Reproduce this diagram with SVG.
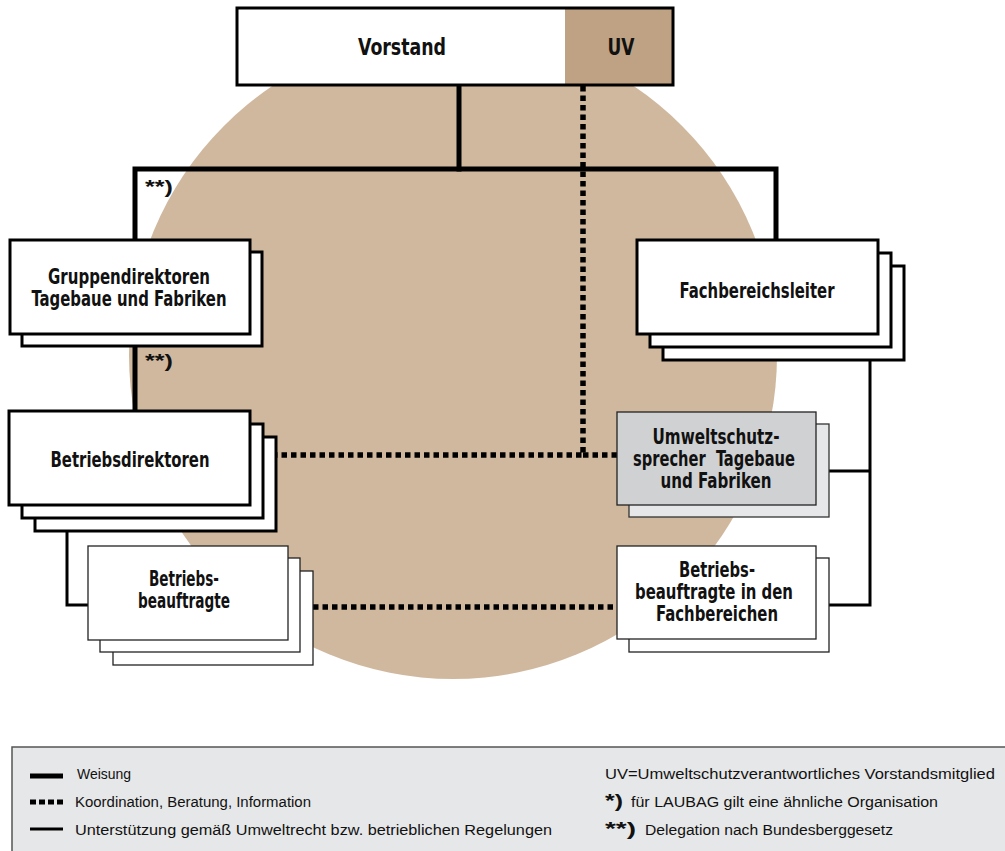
<svg xmlns="http://www.w3.org/2000/svg" width="1005" height="851" viewBox="0 0 1005 851">
  <style>
    .box { fill: #ffffff; stroke: #000000; stroke-width: 3; }
    .thin { fill: #ffffff; stroke: #222222; stroke-width: 1.3; }
    .lbl { font-family: "DejaVu Sans Condensed", "Liberation Sans", sans-serif; font-weight: bold; font-size: 20.5px; fill: #111111; text-anchor: middle; }
    .weisung { fill: none; stroke: #000000; stroke-width: 5; stroke-linejoin: miter; stroke-linecap: square; }
    .koord { fill: none; stroke: #000000; stroke-width: 5.5; stroke-dasharray: 5.5 4; }
    .support { fill: none; stroke: #000000; stroke-width: 3; stroke-linejoin: miter; }
    .note { font-family: "Liberation Sans", sans-serif; font-size: 15.5px; fill: #111111; }
    .star { font-family: "Liberation Sans", sans-serif; font-size: 19px; font-weight: bold; fill: #111111; }
  </style>

  <!-- background disc -->
  <circle cx="453" cy="355" r="324" fill="#d0b89e"/>

  <!-- connectors -->
  <g id="connectors">
    <polyline class="weisung" points="459,85 459,169"/>
    <polyline class="weisung" points="135,240 135,169 776,169 776,240"/>
    <polyline class="weisung" points="135,346 135,411"/>
    <polyline class="koord" points="583,86 583,455 276,455"/>
    <line class="koord" x1="583" y1="455" x2="617" y2="455"/>
    <line class="koord" x1="313" y1="607" x2="617" y2="607"/>
    <polyline class="support" points="67,531 67,605 88,605"/>
    <polyline class="support" points="870,360 870,605 829,605"/>
    <line class="support" x1="829" y1="471" x2="870" y2="471"/>
  </g>

  <!-- Vorstand with UV -->
  <g id="vorstand">
    <rect x="237" y="8" width="436" height="77" fill="#ffffff"/>
    <rect x="565" y="8" width="108" height="77" fill="#bfa283"/>
    <rect x="237" y="8" width="436" height="77" fill="none" stroke="#000" stroke-width="3"/>
    <text class="lbl" x="402" y="54.5" style="font-size:23.5px" textLength="88" lengthAdjust="spacingAndGlyphs">Vorstand</text>
    <text class="lbl" x="621" y="54.5" style="font-size:23.5px" textLength="27" lengthAdjust="spacingAndGlyphs">UV</text>
  </g>

  <g id="gruppendirektoren">
    <rect class="box" x="22" y="252" width="240" height="94"/>
    <rect class="box" x="10" y="240" width="240" height="94"/>
    <text class="lbl" x="129" y="284" textLength="162" lengthAdjust="spacingAndGlyphs">Gruppendirektoren</text>
    <text class="lbl" x="129" y="306" textLength="195" lengthAdjust="spacingAndGlyphs">Tagebaue und Fabriken</text>
  </g>

  <g id="fachbereichsleiter">
    <rect class="box" x="663" y="266" width="241" height="94"/>
    <rect class="box" x="650" y="253" width="241" height="94"/>
    <rect class="box" x="637" y="240" width="241" height="94"/>
    <text class="lbl" x="757" y="298" textLength="155" lengthAdjust="spacingAndGlyphs">Fachbereichsleiter</text>
  </g>

  <g id="betriebsdirektoren">
    <rect class="box" x="35" y="437" width="241" height="94"/>
    <rect class="box" x="22" y="424" width="241" height="94"/>
    <rect class="box" x="9" y="411" width="241" height="94"/>
    <text class="lbl" x="130" y="467" textLength="159" lengthAdjust="spacingAndGlyphs">Betriebsdirektoren</text>
  </g>

  <g id="betriebsbeauftragte">
    <rect class="thin" x="113" y="571" width="200" height="94"/>
    <rect class="thin" x="100" y="558" width="200" height="94"/>
    <rect class="thin" x="88" y="546" width="200" height="94"/>
    <text class="lbl" x="184" y="586" textLength="70" lengthAdjust="spacingAndGlyphs">Betriebs-</text>
    <text class="lbl" x="184" y="608" textLength="92" lengthAdjust="spacingAndGlyphs">beauftragte</text>
  </g>

  <g id="umweltschutzsprecher">
    <rect x="629" y="424" width="200" height="93" fill="#e6e7e8" stroke="#333" stroke-width="1.3"/>
    <rect x="617" y="412" width="199" height="93" fill="#d0d1d3" stroke="#222" stroke-width="1.3"/>
    <text class="lbl" x="716" y="444" textLength="127" lengthAdjust="spacingAndGlyphs">Umweltschutz-</text>
    <text class="lbl" x="714" y="466" xml:space="preserve" textLength="162" lengthAdjust="spacingAndGlyphs">sprecher  Tagebaue</text>
    <text class="lbl" x="716" y="488" textLength="111" lengthAdjust="spacingAndGlyphs">und Fabriken</text>
  </g>

  <g id="fachbereich-beauftragte">
    <rect class="thin" x="629" y="558" width="200" height="94"/>
    <rect class="thin" x="617" y="546" width="199" height="93"/>
    <text class="lbl" x="717" y="577" textLength="76" lengthAdjust="spacingAndGlyphs">Betriebs-</text>
    <text class="lbl" x="714" y="599" textLength="158" lengthAdjust="spacingAndGlyphs">beauftragte in den</text>
    <text class="lbl" x="717" y="621" textLength="122" lengthAdjust="spacingAndGlyphs">Fachbereichen</text>
  </g>

  <!-- delegation marks -->
  <text class="star" x="145" y="193" textLength="28" lengthAdjust="spacingAndGlyphs">**)</text>
  <text class="star" x="145" y="367" textLength="28" lengthAdjust="spacingAndGlyphs">**)</text>

  <!-- legend -->
  <g id="legend">
    <rect x="12" y="747" width="1010" height="120" fill="#e6e7e8" stroke="#555555" stroke-width="1.5"/>
    <line x1="30" y1="776" x2="63" y2="776" stroke="#000" stroke-width="5"/>
    <line x1="30" y1="802" x2="64" y2="802" stroke="#000" stroke-width="5" stroke-dasharray="6 3"/>
    <line x1="30" y1="829" x2="63" y2="829" stroke="#000" stroke-width="3"/>
    <text class="note" x="77" y="779" style="font-size:14.5px" textLength="54" lengthAdjust="spacingAndGlyphs">Weisung</text>
    <text class="note" x="75" y="807" textLength="236" lengthAdjust="spacingAndGlyphs">Koordination, Beratung, Information</text>
    <text class="note" x="75" y="835" textLength="477" lengthAdjust="spacingAndGlyphs">Unterstützung gemäß Umweltrecht bzw. betrieblichen Regelungen</text>
    <text class="note" x="605" y="779" textLength="390" lengthAdjust="spacingAndGlyphs">UV=Umweltschutzverantwortliches Vorstandsmitglied</text>
    <text class="note" x="605" y="807"><tspan class="star" textLength="18" lengthAdjust="spacingAndGlyphs">*)</tspan><tspan x="631" textLength="307" lengthAdjust="spacingAndGlyphs">für LAUBAG gilt eine ähnliche Organisation</tspan></text>
    <text class="note" x="605" y="835"><tspan class="star" textLength="31" lengthAdjust="spacingAndGlyphs">**)</tspan><tspan x="645" textLength="248" lengthAdjust="spacingAndGlyphs">Delegation nach Bundesberggesetz</tspan></text>
  </g>
</svg>
